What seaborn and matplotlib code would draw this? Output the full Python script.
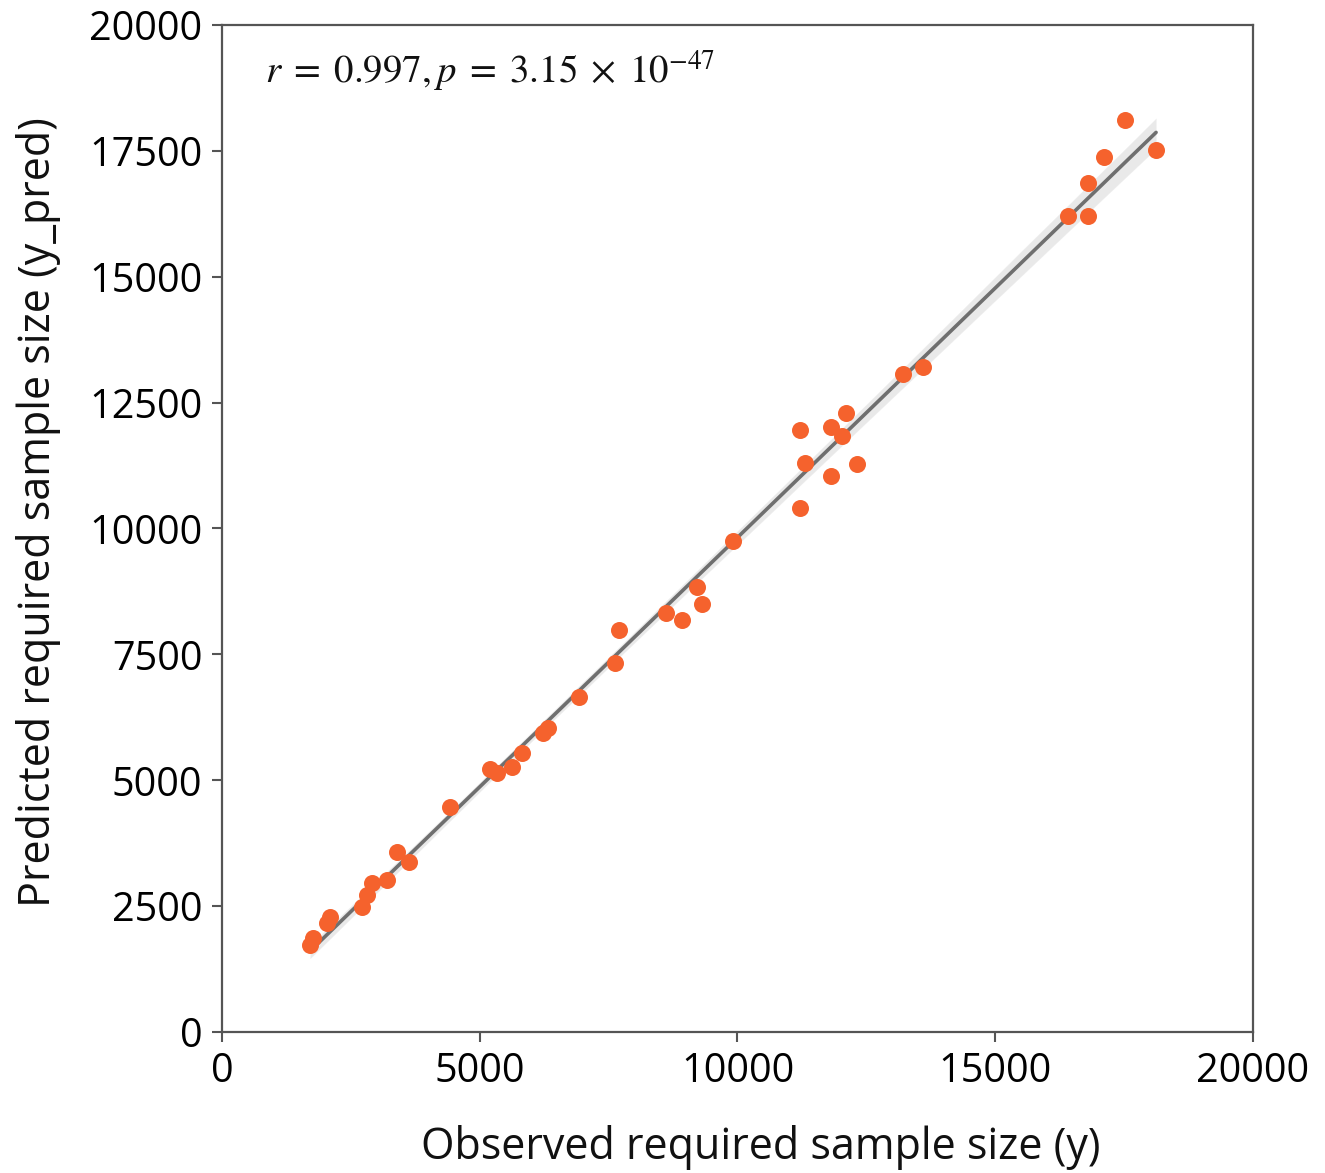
import matplotlib
matplotlib.use("Agg")
import matplotlib.pyplot as plt
import seaborn as sns
import pandas as pd

# Observed vs. predicted required sample sizes
observed = [1707, 1765, 2037, 2095, 2716, 2813, 2910, 3201, 3395, 3628,
            4423, 5199, 5335, 5626, 5820, 6227, 6324, 6926, 7624, 7702,
            8614, 8924, 9215, 9312, 9913,
            11213, 11310, 11213, 11815, 11815, 12028, 12106, 12319, 13211, 13599,
            16412, 16800, 16800, 17111, 17518, 18119]
predicted = [1728, 1867, 2165, 2284, 2483, 2721, 2959, 3019, 3575, 3376,
             4469, 5223, 5144, 5263, 5541, 5938, 6037, 6653, 7328, 7984,
             8321, 8182, 8838, 8500, 9751,
             10407, 11300, 11956, 11042, 12015, 11837, 12293, 11280, 13068, 13207,
             16206, 16206, 16861, 17378, 18112, 17516]

x_ticks = [0, 5000, 10000, 15000, 20000]
y_ticks = [0, 2500, 5000, 7500, 10000, 12500, 15000, 17500, 20000]

df = pd.DataFrame({"y": observed, "y_pred": predicted})

sns.set_theme(style="white")
plt.rcParams["font.family"] = ["Open Sans", "DejaVu Sans"]
plt.rcParams["mathtext.fontset"] = "stix"

fig = plt.figure(figsize=(13.25, 11.73), dpi=100)
ax = fig.add_axes([0.1675, 0.1202, 0.7782, 0.8585])

sns.regplot(data=df, x="y", y="y_pred", ax=ax, ci=95,
            scatter_kws=dict(color="#f5622d", s=150, alpha=1, linewidths=0,
                             zorder=3),
            line_kws=dict(color="#6f6f6f", lw=2.6, zorder=2))

ax.set_xlim(0, 20000)
ax.set_ylim(0, 20000)
ax.set_xticks(x_ticks)
ax.set_yticks(y_ticks)
ax.tick_params(axis="both", direction="out", length=7, width=1.5,
               color="#555555", labelsize=28.5, labelcolor="black", pad=7,
               bottom=True, left=True)
for sp in ax.spines.values():
    sp.set_color("#555555")
    sp.set_linewidth(1.6)

ax.set_xlabel("Observed required sample size (y)", fontsize=31, labelpad=24,
              color="#111111")
ax.set_ylabel("Predicted required sample size (y_pred)", fontsize=31,
              labelpad=20, color="#111111")
ax.xaxis.label.set_x(0.523)
ax.yaxis.label.set_y(0.516)

ax.text(0.042, 0.955, r"$r\;=\;0.997, p\;=\;3.15\;\times\;10^{-47}$",
        transform=ax.transAxes, fontsize=28, va="center", ha="left",
        color="#111111")

fig.savefig("out.png", dpi=100, facecolor="white")
